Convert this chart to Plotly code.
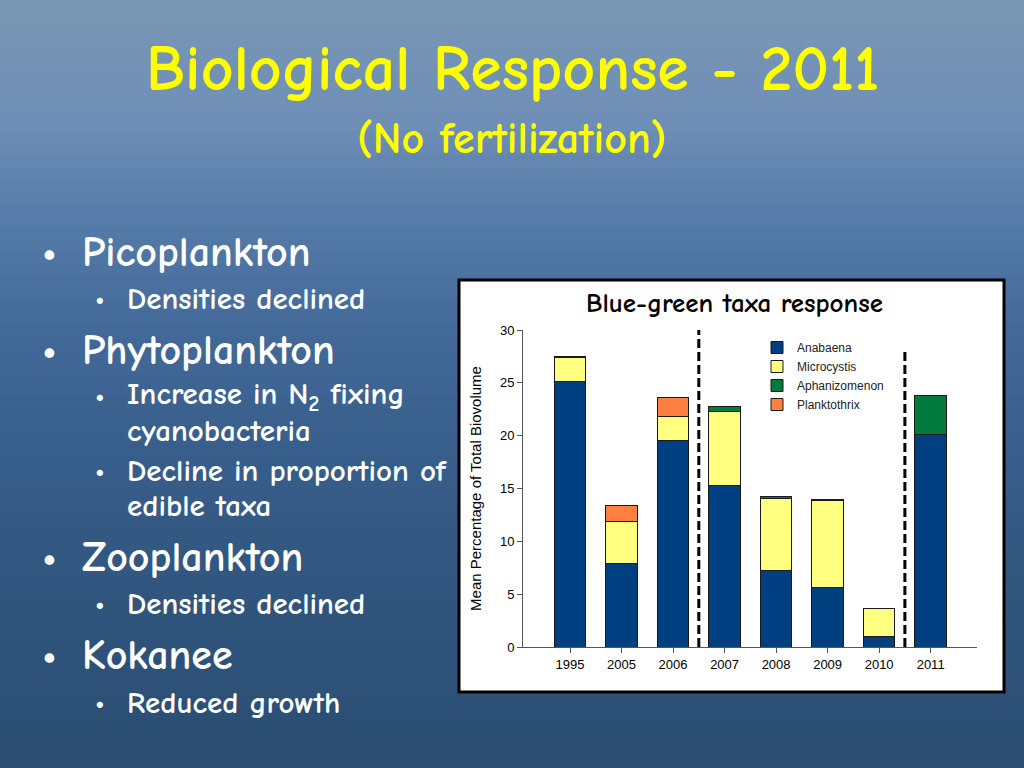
import plotly.graph_objects as go

# ---------------- data ----------------
years = ["1995", "2005", "2006", "2007", "2008", "2009", "2010", "2011"]
anabaena = [25.1, 7.9, 19.5, 15.3, 7.2, 5.6, 1.0, 20.1]
microcystis = [2.3, 3.95, 2.3, 7.0, 6.9, 8.3, 2.65, 0.0]
aphanizomenon = [0.1, 0.0, 0.0, 0.5, 0.1, 0.1, 0.0, 3.7]
planktothrix = [0.0, 1.55, 1.85, 0.0, 0.0, 0.0, 0.0, 0.0]
y_ticks = [0, 5, 10, 15, 20, 25, 30]
divider_x = [2.5, 6.5]
divider_top = [30, 28.2]

series = [
    ("Anabaena", anabaena, "#003F80"),
    ("Microcystis", microcystis, "#FFFF80"),
    ("Aphanizomenon", aphanizomenon, "#007A3D"),
    ("Planktothrix", planktothrix, "#FF7F40"),
]

# ---------------- geometry helpers ----------------
W, H = 1024, 768
L, R, T, B = 523, 47, 330, 121
PW, PH = W - L - R, H - T - B


def px(x):
    return (x - L) / PW


def py(y):
    return (H - B - y) / PH


fig = go.Figure()
for name, vals, col in series:
    fig.add_trace(go.Bar(
        x=years, y=vals, name=name,
        marker=dict(color=col, line=dict(color="#1a1a1a", width=1)),
    ))

shapes = []
# background gradient
stops = [(0, (122, 150, 180)), (120, (110, 143, 182)), (230, (84, 122, 168)),
         (330, (66, 105, 152)), (480, (54, 92, 136)), (620, (47, 84, 124)),
         (768, (42, 77, 113))]


def col_at(y):
    for (y0, c0), (y1, c1) in zip(stops[:-1], stops[1:]):
        if y0 <= y <= y1:
            t = (y - y0) / (y1 - y0)
            return tuple(int(round(a + (b - a) * t)) for a, b in zip(c0, c1))
    return stops[-1][1]


band = 12
for y0 in range(0, H, band):
    c = col_at(y0 + band / 2)
    shapes.append(dict(type="rect", xref="paper", yref="paper",
                       x0=px(-5), x1=px(W + 5), y0=py(y0 - 1), y1=py(y0 + band + 1),
                       fillcolor="rgb(%d,%d,%d)" % c, line=dict(width=0), layer="below"))
# white chart panel
shapes.append(dict(type="rect", xref="paper", yref="paper",
                   x0=px(459), x1=px(1004), y0=py(280), y1=py(692),
                   fillcolor="white", line=dict(color="black", width=3), layer="below"))
# dashed dividers
for xd, yt in zip(divider_x, divider_top):
    shapes.append(dict(type="line", xref="x", yref="y", x0=xd, x1=xd, y0=0, y1=yt,
                       line=dict(color="black", width=3, dash="9px,4px")))

slide_font = "Comic Sans MS, Comic Neue, Noto Sans, sans-serif"
ann = []
ann.append(dict(text="Biological Response - 2011", x=px(512), y=py(69), xref="paper", yref="paper",
                showarrow=False, xanchor="center", yanchor="middle",
                font=dict(family=slide_font, size=64, color="#FFFF00", weight="bold")))
ann.append(dict(text="(No fertilization)", x=px(512), y=py(138), xref="paper", yref="paper",
                showarrow=False, xanchor="center", yanchor="middle",
                font=dict(family=slide_font, size=44, color="#FFFF00", weight="bold")))

bullets = [
    (0, "Picoplankton", 265),
    (1, "Densities declined", 308),
    (0, "Phytoplankton", 363),
    (1, "Increase in N<sub>2</sub> fixing", 405),
    (2, "cyanobacteria", 440),
    (1, "Decline in proportion of", 480),
    (2, "edible taxa", 515),
    (0, "Zooplankton", 570),
    (1, "Densities declined", 613),
    (0, "Kokanee", 668),
    (1, "Reduced growth", 712),
]
for lvl, txt, base in bullets:
    fs = 42 if lvl == 0 else 31
    cy = base - 0.3 * fs
    tx = 80 if lvl == 0 else 125
    if lvl in (0, 1):
        bx = 40 if lvl == 0 else 93
        ann.append(dict(text="•", x=px(bx), y=py(cy), xref="paper", yref="paper",
                        showarrow=False, xanchor="left", yanchor="middle",
                        font=dict(family=slide_font, size=(46 if lvl == 0 else 30),
                                  color="white", weight="bold")))
    ann.append(dict(text=txt, x=px(tx), y=py(cy), xref="paper", yref="paper",
                    showarrow=False, xanchor="left", yanchor="middle",
                    font=dict(family=slide_font, size=fs, color="white", weight="bold")))

ann.append(dict(text="Blue-green taxa response", x=px(734), y=py(303), xref="paper", yref="paper",
                showarrow=False, xanchor="center", yanchor="middle",
                font=dict(family=slide_font, size=27, color="black", weight="bold")))

axis_font = "Arial, Liberation Sans, sans-serif"
fig.update_layout(
    width=W, height=H,
    margin=dict(l=L, r=R, t=T, b=B, pad=0),
    paper_bgcolor="rgb(60,100,145)",
    plot_bgcolor="rgba(0,0,0,0)",
    barmode="stack",
    bargap=0.39,
    shapes=shapes,
    annotations=ann,
    showlegend=True,
    legend=dict(x=px(757), y=py(333), xanchor="left", yanchor="top",
                traceorder="normal", bgcolor="rgba(0,0,0,0)",
                font=dict(family=axis_font, size=12, color="#222"),
                itemwidth=30, tracegroupgap=0),
    xaxis=dict(type="category", range=[-0.913, 7.9], showline=True, linecolor="#555",
               linewidth=1, ticks="outside", ticklen=5, tickcolor="#555",
               tickfont=dict(family=axis_font, size=13, color="black"),
               showgrid=False, zeroline=False, fixedrange=True),
    yaxis=dict(range=[0, 30], tickvals=y_ticks, showline=True, linecolor="#555",
               linewidth=1, ticks="outside", ticklen=5, tickcolor="#555",
               tickfont=dict(family=axis_font, size=13, color="black"),
               showgrid=False, zeroline=False, fixedrange=True,
               title=dict(text="Mean Percentage of Total Biovolume", standoff=14,
                          font=dict(family=axis_font, size=15, color="black"))),
)

fig.write_html("out.html", config={"displayModeBar": False},
               post_script="document.body.style.margin='0';document.body.style.overflow='hidden';")
